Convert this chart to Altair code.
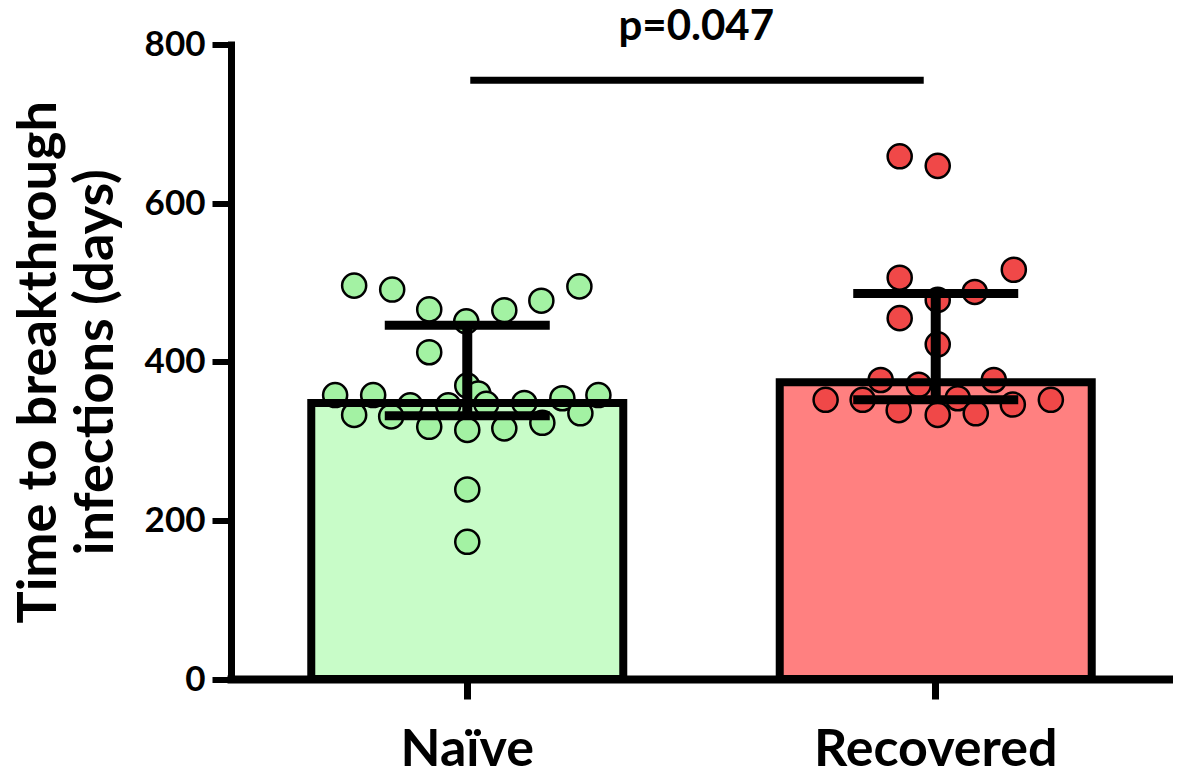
import altair as alt
import pandas as pd

# ---------------- data ----------------
groups = ["Naïve", "Recovered"]
bar_medians = [348, 374]
err_low = [332, 352]
err_high = [446, 486]

naive_days = [496, 491, 466, 451, 465, 477, 495, 412,
              370, 360,
              358, 358, 354, 358,
              345, 345, 347, 348,
              333, 335,
              331, 318, 314, 316, 323,
              239, 173]
naive_jitter = [-113, -75, -38, -1, 37, 74, 112, -38,
                0, 11,
                -132, -94, 95, 131,
                -57, -19, 19, 57,
                -113, 113,
                -76, -38, 0, 37, 75,
                0, 0]

recovered_days = [659, 647, 506, 516, 488, 478, 455, 422,
                  377, 371, 377,
                  352, 352, 354, 352,
                  339, 333, 335, 346]
recovered_jitter = [-36, 2, -36, 78, 39, 2, -36, 2,
                    -55, -17, 58,
                    -110, -73, 22, 115,
                    -37, 2, 40, 77]

p_label = "p=0.047"
p_from = "Naïve"
p_to = "Recovered"
p_line_y = 755
p_label_y = 806

bar_fill = ["#C8FCC8", "#FF8080"]
point_fill = ["#A3F2A3", "#F04848"]

# ---------------- tables ----------------
bars = pd.DataFrame({"group": groups, "value": bar_medians,
                     "low": err_low, "high": err_high})
points = pd.DataFrame({
    "group": ["Naïve"] * len(naive_days) + ["Recovered"] * len(recovered_days),
    "value": naive_days + recovered_days,
    "jitter": naive_jitter + recovered_jitter,
})
pdf = pd.DataFrame({"group": [p_from], "to": [p_to], "value": [p_line_y],
                    "ly": [p_label_y], "label": [p_label]})

FONT = "Lato"
BAR_W = 312

def x_scale():
    return alt.Scale(type="band", domain=groups, paddingInner=0.3333,
                     paddingOuter=0.171)

x_axis = alt.Axis(title=None, labelAngle=0, labelFont=FONT, labelFontSize=52,
                  labelFontWeight="bold", labelColor="black", labelLimit=0,
                  domainColor="black", domainWidth=8, domainCap="square",
                  tickColor="black", tickWidth=7, tickSize=20, labelPadding=25)
y_scale = alt.Scale(domain=[0, 800], nice=False)
y_axis = alt.Axis(values=[0, 200, 400, 600, 800],
                  title=["Time to breakthrough", "infections (days)"],
                  titleFont=FONT, titleFontSize=54, titleFontWeight="bold",
                  titleColor="black", titleLineHeight=57, titlePadding=21,
                  titleLimit=0,
                  labelFont=FONT, labelFontSize=35, labelFontWeight="bold",
                  labelColor="black", labelPadding=7, labelLimit=0,
                  domainColor="black", domainWidth=7, domainCap="square",
                  tickColor="black", tickWidth=6, tickSize=19, grid=False)

def X(axis=None):
    return alt.X("group:N", scale=x_scale(), axis=axis)

def Y(field):
    return alt.Y(f"{field}:Q", scale=y_scale, axis=y_axis)

bar_fill_layer = alt.Chart(bars).mark_bar(strokeWidth=0, width=BAR_W).encode(
    x=X(x_axis), y=Y("value"),
    color=alt.Color("group:N", scale=alt.Scale(domain=groups, range=bar_fill),
                    legend=None),
)

point_layer = alt.Chart(points).mark_point(
    filled=True, shape="circle", size=580, stroke="black", strokeWidth=2.5,
    opacity=1,
).encode(
    x=X(), y=Y("value"),
    xOffset=alt.XOffset("jitter:Q", scale=alt.Scale(domain=[-156, 156])),
    fill=alt.Fill("group:N", scale=alt.Scale(domain=groups, range=point_fill),
                  legend=None),
)

bar_outline = alt.Chart(bars).mark_bar(
    fillOpacity=0, stroke="black", strokeWidth=8, strokeJoin="miter",
    width=BAR_W,
).encode(x=X(), y=Y("value"))

err_rule = alt.Chart(bars).mark_rule(color="black", strokeWidth=10).encode(
    x=X(), y=Y("low"), y2="high")
cap_low = alt.Chart(bars).mark_tick(color="black", size=165, thickness=9,
                                    opacity=1).encode(x=X(), y=Y("low"))
cap_high = alt.Chart(bars).mark_tick(color="black", size=165, thickness=9,
                                     opacity=1).encode(x=X(), y=Y("high"))

p_line = alt.Chart(pdf).mark_rule(color="black", strokeWidth=7,
                                  xOffset=3, x2Offset=-12).encode(
    x=X(), x2="to:N", y=Y("value"))
p_text = alt.Chart(pdf).mark_text(
    font=FONT, fontSize=42, fontWeight="bold", color="black",
    baseline="alphabetic", align="center", dx=229,
).encode(x=X(), y=Y("ly"), text="label:N")

chart = alt.layer(
    bar_fill_layer, point_layer, bar_outline, err_rule, cap_low, cap_high,
    p_line, p_text,
).resolve_scale(x="independent").properties(
    width=941, height=634.5,
    autosize=alt.AutoSizeParams(type="none"),
    padding={"left": 223, "top": 36.5, "right": 1, "bottom": 94},
).configure_view(stroke=None).configure_axis(grid=False)

chart.save("out.html", embed_options={"renderer": "svg", "actions": False})
